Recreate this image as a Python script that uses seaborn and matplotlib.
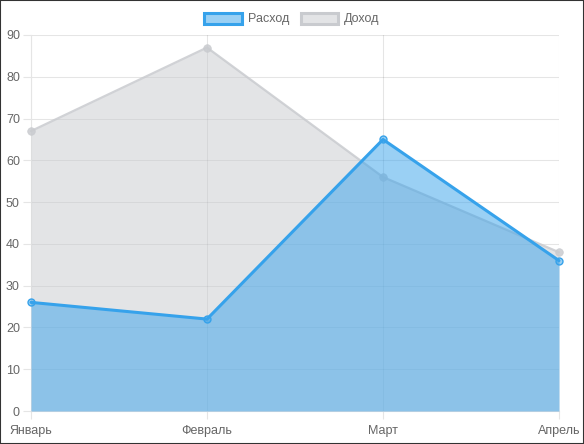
import matplotlib
matplotlib.use("Agg")
import matplotlib.pyplot as plt
import seaborn as sns
import pandas as pd
import numpy as np
from matplotlib.patches import Patch, Rectangle

months = ["Январь", "Февраль", "Март", "Апрель"]
expense = [26, 22, 65, 36]
income = [67, 87, 56, 38]
series_names = ["Расход", "Доход"]

sns.set_style("white")
plt.rcParams['font.family'] = ['Liberation Sans', 'DejaVu Sans']

fig = plt.figure(figsize=(5.84, 4.44), dpi=100)
ax = fig.add_axes([31/584, 33/444, 528/584, 376/444])

x = np.arange(len(months))
df = pd.DataFrame({"x": np.concatenate([x, x]),
                   "y": expense + income,
                   "s": [series_names[0]]*4 + [series_names[1]]*4})

blue = (54/255, 162/255, 235/255)
grey = (201/255, 203/255, 207/255)
gridc = "#e5e5e5"

# grey (income) below, blue on top
ax.fill_between(x, income, 0, color=grey, alpha=0.5, lw=0, zorder=2)
sns.lineplot(data=df[df.s == series_names[1]], x="x", y="y", ax=ax, color=grey,
             lw=1.6, zorder=3, legend=False, marker="o", markersize=5.5,
             markerfacecolor=grey, markeredgecolor=grey, markeredgewidth=0.5,
             clip_on=False, alpha=0.85)
ax.fill_between(x, expense, 0, color=blue, alpha=0.5, lw=0, zorder=4)
sns.lineplot(data=df[df.s == series_names[0]], x="x", y="y", ax=ax, color=blue,
             lw=2.2, zorder=5, legend=False, marker="o", markersize=5,
             markerfacecolor=(*blue, 0.5), markeredgecolor=blue, markeredgewidth=1,
             clip_on=False)

ax.set_xlim(0, 3)
ax.set_ylim(0, 90)
ax.set_yticks(range(0, 91, 10))
ax.set_xticks(x)
ax.set_xticklabels(months)
ax.set_xlabel("")
ax.set_ylabel("")
ax.grid(True, color="black", lw=0.8, alpha=0.1)
for gl in ax.get_xgridlines() + ax.get_ygridlines():
    gl.set_zorder(6)
for sp in ["top", "right"]:
    ax.spines[sp].set_visible(False)
for sp in ["left", "bottom"]:
    ax.spines[sp].set_color(gridc)
    ax.spines[sp].set_linewidth(0.8)
    ax.spines[sp].set_zorder(1)
ax.tick_params(axis="both", length=6, color=gridc, width=0.8, labelcolor="#666666",
               labelsize=9, pad=2, direction="out")
ax.tick_params(axis="x", pad=4)
ax.tick_params(left=True, bottom=True)

handles = [Patch(facecolor=(*blue, 0.5), edgecolor=blue, lw=2.2, label=series_names[0]),
           Patch(facecolor=(*grey, 0.5), edgecolor=grey, lw=2.2, label=series_names[1])]
leg = fig.legend(handles=handles, loc="center", bbox_to_anchor=(0.5, 1 - 19/444),
                 ncol=2, frameon=False, fontsize=9, handlelength=3.0, handleheight=1.0,
                 columnspacing=0.9, handletextpad=0.5, labelcolor="#666666")

fig.patches.append(Rectangle((0, 0), 1, 1, transform=fig.transFigure, fill=False,
                             edgecolor="#333333", lw=1.5, zorder=10))

fig.savefig("out.png", dpi=100)
